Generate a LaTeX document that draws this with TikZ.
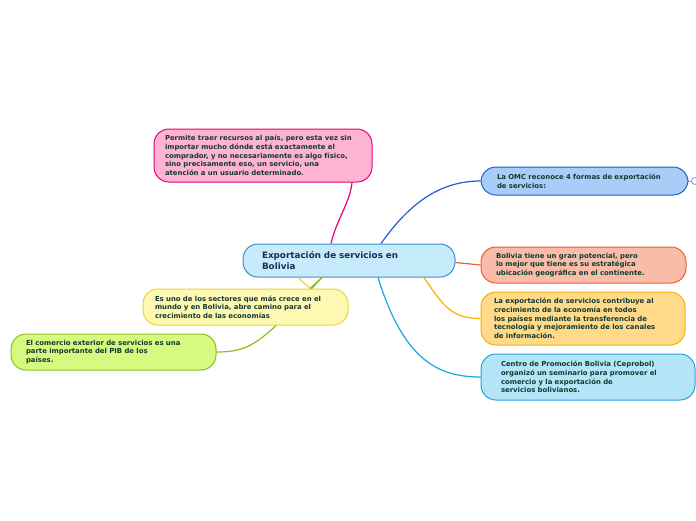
\documentclass[tikz,border=0pt]{standalone}
\usepackage{fontspec}
\setmainfont{DejaVu Sans}
\usepackage{xcolor}
\usepackage{tikz}
\usetikzlibrary{arrows.meta,positioning}
\definecolor{mainfill}{HTML}{C6EBFB}
\definecolor{mainstroke}{HTML}{3A8FD0}
\definecolor{maintext}{HTML}{1C2A5A}
\definecolor{bodytext}{HTML}{123A30}
\definecolor{pinkfill}{HTML}{FFB3D3}
\definecolor{pinkstroke}{HTML}{E6007E}
\definecolor{omcfill}{HTML}{A8CDF8}
\definecolor{omcstroke}{HTML}{1F5FCC}
\definecolor{potfill}{HTML}{F8BCA9}
\definecolor{potstroke}{HTML}{F25A2A}
\definecolor{contfill}{HTML}{FFDA8A}
\definecolor{contstroke}{HTML}{F5B000}
\definecolor{ceprofill}{HTML}{B4E4F8}
\definecolor{ceprostroke}{HTML}{1BA6E0}
\definecolor{sectfill}{HTML}{FFF8B3}
\definecolor{sectstroke}{HTML}{E6D63A}
\definecolor{pibfill}{HTML}{D6FA80}
\definecolor{pibstroke}{HTML}{8DBF1D}

\begin{document}
\begin{tikzpicture}[
  x=1pt,
  y=1pt,
  every node/.style={
    rectangle,
    rounded corners=15pt,
    align=left,
    line width=1pt,
    text=bodytext,
    font=\bfseries\fontsize{6.9}{8.7}\selectfont
  },
  topic/.style={
    draw=mainstroke,
    fill=mainfill,
    text=maintext,
    font=\bfseries\fontsize{8.8}{11}\selectfont,
    inner xsep=19pt,
    text width=174pt,
    minimum width=212pt,
    minimum height=33pt
  },
  branch/.style={
    line width=1.2pt
  }
]

\useasboundingbox (0,0) rectangle (696,-520);

% Central topic
\node[topic] (main) at (349,-260.5) {Exportación de servicios en\\Bolivia};

% Left side
\node[draw=pinkstroke, fill=pinkfill, inner xsep=11pt, text width=196pt,
  minimum width=218pt, minimum height=53pt] (pais) at (263,-155.5)
  {Permite traer recursos al país, pero esta vez sin\\importar mucho dónde está exactamente el\\comprador, y no necesariamente es algo físico,\\sino precisamente eso, un servicio, una\\atención a un usuario determinado.};

\node[draw=pibstroke, fill=pibfill, inner xsep=15pt, text width=175pt,
  minimum width=205pt, minimum height=36pt] (pib) at (113.5,-352)
  {El comercio exterior de servicios es una\\parte importante del PIB de los\\países.};

% Right side
\node[draw=omcstroke, fill=omcfill, inner xsep=16pt, text width=175pt,
  minimum width=207pt, minimum height=28pt] (omc) at (584.5,-181)
  {La OMC reconoce 4 formas de exportación\\de servicios:};

\node[draw=potstroke, fill=potfill, inner xsep=15pt, text width=175pt,
  minimum width=205pt, minimum height=36pt] (potencial) at (583.5,-265)
  {Bolivia tiene un gran potencial, pero\\lo mejor que tiene es su estratégica\\ubicación geográfica en el continente.};

\node[draw=contstroke, fill=contfill, inner xsep=13pt, text width=178pt,
  minimum width=204pt, minimum height=53pt] (crece) at (583,-318.5)
  {La exportación de servicios contribuye al\\crecimiento de la economía en todos\\los países mediante la transferencia de\\tecnología y mejoramiento de los canales\\de información.};

\node[draw=ceprostroke, fill=ceprofill, inner xsep=20pt, text width=174pt,
  minimum width=214pt, minimum height=46pt] (ceprobol) at (588,-377)
  {Centro de Promoción Bolivia (Ceprobol)\\organizó un seminario para promover el\\comercio y la exportación de\\servicios bolivianos.};

\node[circle, draw=omcstroke!60, fill=white, line width=0.8pt,
  minimum size=7pt, inner sep=0pt] (omcfold) at (695,-181) {};

% Connectors (green first, it runs behind the yellow box)
\draw[branch, pibstroke] ([xshift=-27pt]main.south) .. controls +(-60,-65) and +(35,0) .. (pib.east);

\node[draw=sectstroke, fill=sectfill, inner xsep=12pt, text width=181pt,
  minimum width=205pt, minimum height=36pt] (sector) at (245.5,-307)
  {Es uno de los sectores que más crece en el\\mundo y en Bolivia, abre camino para el\\crecimiento de las economías};

\draw[branch, sectstroke] ([xshift=-51pt]main.south) -- ([xshift=64.5pt]sector.north);
\draw[branch, pibstroke] ([xshift=-27pt]main.south) -- ([xshift=64.5pt]sector.north);

\draw[branch, pinkstroke] ([xshift=-18pt]main.north) .. controls +(6,25) and +(-2,-20) .. ([xshift=89pt]pais.south);
\draw[branch, omcstroke] ([xshift=32pt]main.north) .. controls +(25,35) and +(-45,0) .. (omc.west);
\draw[branch, potstroke] ([yshift=-2pt]main.east) -- (potencial.west);
\draw[branch, contstroke] ([xshift=75pt]main.south) .. controls +(20,-30) and +(-28,0) .. (crece.west);
\draw[branch, ceprostroke] ([xshift=29pt]main.south) .. controls +(25,-80) and +(-45,0) .. (ceprobol.west);
\draw[line width=0.8pt, omcstroke!60] (omc.east) -- (omcfold);

\end{tikzpicture}
\end{document}
